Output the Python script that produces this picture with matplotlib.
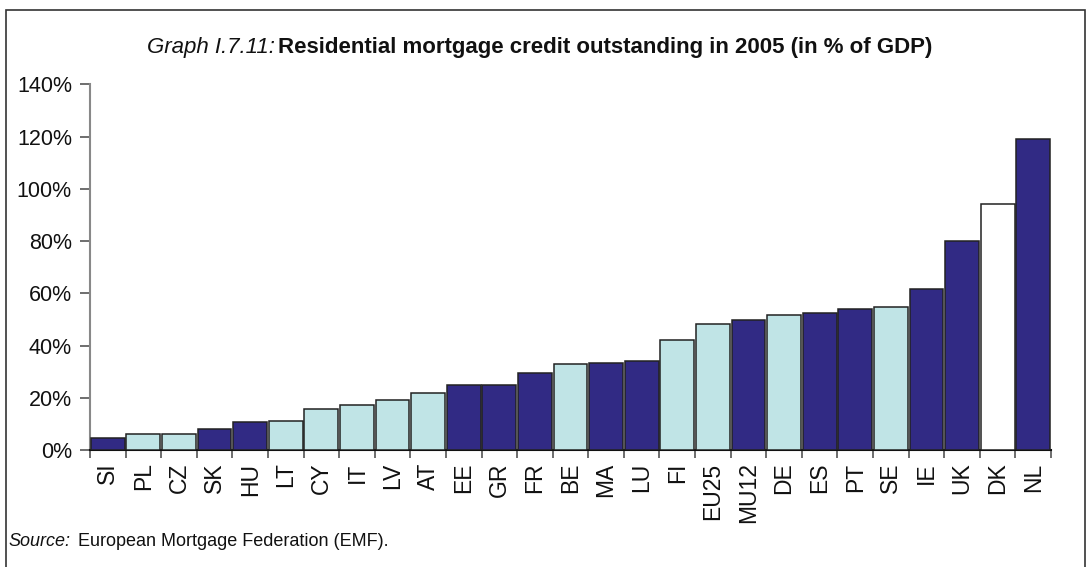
import matplotlib
matplotlib.use("Agg")
import matplotlib.pyplot as plt
from matplotlib.patches import Rectangle
from matplotlib.ticker import FixedLocator

categories = ["SI", "PL", "CZ", "SK", "HU", "LT", "CY", "IT", "LV", "AT", "EE", "GR", "FR",
              "BE", "MA", "LU", "FI", "EU25", "MU12", "DE", "ES", "PT", "SE", "IE", "UK", "DK", "NL"]
values = [4.5, 6.1, 6.1, 8.0, 10.6, 11.1, 15.7, 17.2, 19.3, 21.8, 24.9, 24.9, 29.5,
          33.0, 33.4, 34.1, 42.2, 48.2, 49.8, 51.8, 52.4, 53.9, 54.9, 61.5, 79.9, 94.1, 119.1]
groups = ["d", "l", "l", "d", "d", "l", "l", "l", "l", "l", "d", "d", "d",
          "l", "d", "d", "l", "l", "d", "l", "d", "d", "l", "d", "d", "w", "d"]
yticks = [0, 20, 40, 60, 80, 100, 120, 140]
ytick_labels = ["0%", "20%", "40%", "60%", "80%", "100%", "120%", "140%"]

palette = {"d": "#312A84", "l": "#C0E4E6", "w": "#FFFFFF"}
colors = [palette[g] for g in groups]

W, H = 1088, 567
fig = plt.figure(figsize=(W / 100, H / 100), dpi=100)
plt.rcParams['font.family'] = ['Liberation Sans', 'DejaVu Sans']

# outer frame
fig.patches.append(Rectangle((6 / W, -0.05), (1085 - 6) / W, 1 - 10 / H + 0.05,
                             transform=fig.transFigure, fill=False,
                             edgecolor="#333333", linewidth=1.2))

n = len(categories)
ax = fig.add_axes([90 / W, 1 - 450 / H, (1051 - 90) / W, (450 - 84.3) / H])
x = list(range(n))
ax.bar(x, values, width=0.95, color=colors, edgecolor="#222222", linewidth=1.1, zorder=3)
ax.set_xlim(-0.5, n - 0.5)
ax.set_ylim(0, 140)
ax.set_yticks(yticks)
ax.set_yticklabels(ytick_labels, fontsize=15.5, color="#111111")
ax.set_xticks(x)
ax.set_xticklabels(categories, rotation=90, fontsize=16.5, color="#111111")
ax.tick_params(axis="x", which="major", length=0, pad=9)
ax.xaxis.set_minor_locator(FixedLocator([i - 0.5 for i in range(n + 1)]))
ax.tick_params(axis="x", which="minor", length=6, color="#555555", width=1.2)
ax.tick_params(axis="y", length=7, color="#555555", width=1.2, pad=6)
for s in ["top", "right"]:
    ax.spines[s].set_visible(False)
ax.spines["left"].set_color("#888888")
ax.spines["left"].set_linewidth(1.5)
ax.spines["bottom"].set_color("#111111")
ax.spines["bottom"].set_linewidth(1.5)

# title
t1 = fig.text(147 / W, 1 - 47 / H, "Graph I.7.11:", fontsize=16, style="italic",
              va="center", ha="left", color="#111111")
fig.canvas.draw()
bb = t1.get_window_extent()
fig.text(bb.x1 / W + 3 / W, 1 - 47 / H,
         "Residential mortgage credit outstanding in 2005 (in % of GDP)",
         fontsize=16, weight="bold", va="center", ha="left", color="#111111")

# source
s1 = fig.text(8 / W, 1 - 541 / H, "Source:", fontsize=13, style="italic",
              va="center", ha="left", color="#111111")
fig.canvas.draw()
bb2 = s1.get_window_extent()
fig.text(bb2.x1 / W + 8 / W, 1 - 541 / H, "European Mortgage Federation (EMF).",
         fontsize=13, va="center", ha="left", color="#111111")

fig.savefig("out.png", dpi=100)
